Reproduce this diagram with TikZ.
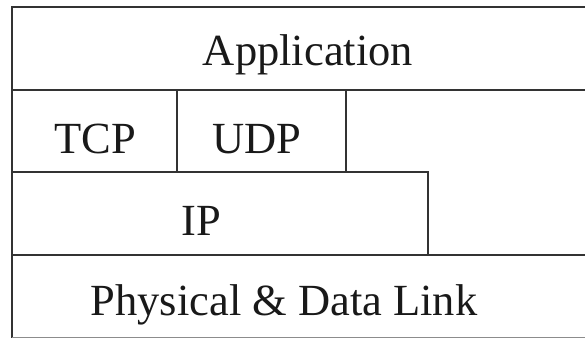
\documentclass[tikz,border=0pt]{standalone}
\usepackage{fontspec}
\setmainfont{Liberation Serif}
\begin{document}
\begin{tikzpicture}[x=1pt,y=-1pt,
  rule/.style={line width=1.7pt,draw=black!80},
  layertext/.style={anchor=base,inner sep=0pt,font=\fontsize{44.5}{50}\selectfont,text=black!90}]
\clip (0,0) rectangle (585,338);
\fill[white] (0,0) rectangle (585,338);

% protocol layer outlines
\draw[rule] (600,7) -- (12,7) -- (12,338);
\draw[rule] (12,90) -- (600,90);
\draw[rule] (177,90) -- (177,172);
\draw[rule] (346,90) -- (346,172);
\draw[rule] (12,172) -- (428,172) -- (428,255);
\draw[rule] (12,255) -- (600,255);
\draw[line width=1.2pt,draw=black!45] (12,337.3) -- (600,337.3);

% layer names
\node[layertext] (app)  at (308,65)  {Application};
\node[layertext] (tcp)  at (95,153)  {TCP};
\node[layertext] (udp)  at (257,153) {UDP};
\node[layertext] (ip)   at (201,235) {IP};
\node[layertext] (phys) at (284,315) {Physical \& Data Link};
\end{tikzpicture}
\end{document}
